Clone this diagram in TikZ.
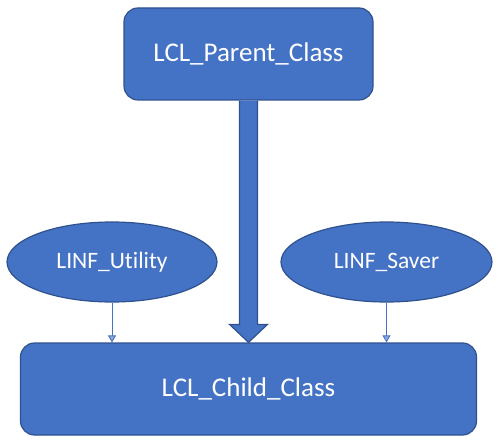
\documentclass[tikz,border=0pt]{standalone}
\usepackage{fontspec}
\setmainfont[Ligatures=NoCommon]{Carlito}
\usetikzlibrary{
    arrows.meta,
    calc,
    shapes.geometric
}

\definecolor{boxblue}{HTML}{4472C4}
\definecolor{edgeblue}{HTML}{2F528F}

\tikzset{
    classbox/.style={draw=edgeblue, fill=boxblue, line width=1.2pt,
        rounded corners=14pt, text=white, inner sep=0pt,
        font=\fontsize{27}{32}\selectfont},
    ifacenode/.style={ellipse, draw=edgeblue, fill=boxblue, line width=1.2pt,
        text=white, inner sep=0pt, font=\fontsize{23.5}{28}\selectfont},
    thinarrow/.style={draw=boxblue, line width=0.9pt,
        -{Triangle[width=8pt,length=7pt,open,fill=boxblue!60!white]}},
    bigarrow/.style={draw=edgeblue, fill=boxblue, line width=1.2pt, line join=miter}
}

\begin{document}
\begin{tikzpicture}[x=1pt, y=-1pt]

\useasboundingbox (0,0) rectangle (500,443);

% Classes
\node[classbox, minimum width=249pt, minimum height=92pt] (parent) at (248.5,54) {LCL\_Parent\_Class};
\node[classbox, minimum width=456pt, minimum height=92pt] (child) at (248.5,389) {LCL\_Child\_Class};

% Interfaces
\node[ifacenode, minimum width=210pt, minimum height=80pt] (utility) at (112,262) {LINF\_Utility};
\node[ifacenode, minimum width=211pt, minimum height=80pt] (saver) at (386.5,262) {LINF\_Saver};

% Inheritance arrow
\draw[bigarrow] ($(parent.south)+(-9,0)$) -- ($(child.north)+(-9,-18)$)
    -- ($(child.north)+(-19,-18)$) -- (child.north) -- ($(child.north)+(19,-18)$)
    -- ($(child.north)+(9,-18)$) -- ($(parent.south)+(9,0)$);

% Interface arrows
\draw[thinarrow] (utility.south) -- (utility.south |- child.north);
\draw[thinarrow] (saver.south) -- (saver.south |- child.north);

\end{tikzpicture}
\end{document}
